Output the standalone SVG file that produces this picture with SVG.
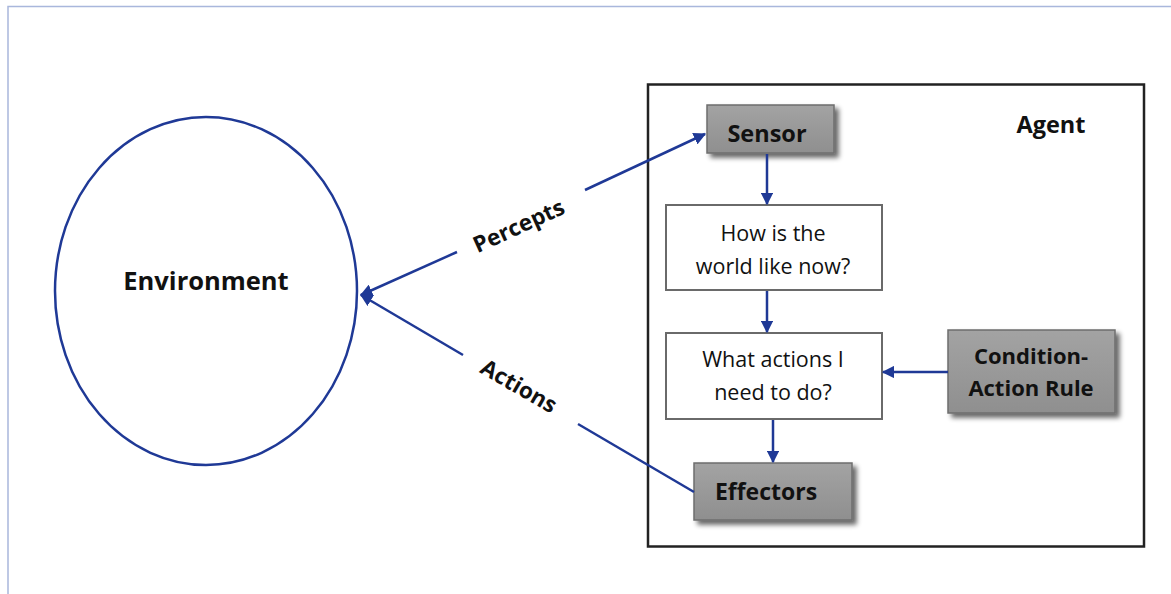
<svg xmlns="http://www.w3.org/2000/svg" width="1171" height="594" viewBox="0 0 1171 594">
<defs>
<marker id="ah" viewBox="0 0 10 10" refX="9" refY="5" markerWidth="5" markerHeight="5" orient="auto" markerUnits="strokeWidth">
<path d="M0,0 L10,5 L0,10 z" fill="#1f3996"/>
</marker>
<linearGradient id="gr" x1="0" y1="0" x2="0" y2="1">
<stop offset="0" stop-color="#a3a3a3"/>
<stop offset="1" stop-color="#8f8f8f"/>
</linearGradient>
<filter id="sh" x="-20%" y="-20%" width="150%" height="160%">
<feGaussianBlur in="SourceAlpha" stdDeviation="2.5"/>
<feOffset dx="4" dy="4" result="b"/>
<feComponentTransfer><feFuncA type="linear" slope="0.6"/></feComponentTransfer>
<feMerge><feMergeNode/><feMergeNode in="SourceGraphic"/></feMerge>
</filter>
</defs>
<style>
.t{font-family:"Open Sans","Liberation Sans",sans-serif;fill:#111;text-anchor:middle}
.b{font-weight:bold}
.gray{fill:url(#gr);stroke:#6e6e6e;stroke-width:1.5;filter:url(#sh)}
.wbox{fill:#fff;stroke:#6a6a6a;stroke-width:2}
.c{stroke:#1f3996;stroke-width:2.5;fill:none}
</style>
<rect width="1171" height="594" fill="#fff"/>
<path d="M8,594 L8,6.5 L1171,6.5" fill="none" stroke="#a9b7dc" stroke-width="1.5"/>

<g id="environment">
<ellipse cx="206" cy="291" rx="151" ry="174" fill="#fff" stroke="#1f3996" stroke-width="2.5"/>
<text class="t b" x="206" y="290" font-size="25.5">Environment</text>
</g>

<g id="agent">
<rect x="648" y="84.5" width="496" height="462" fill="none" stroke="#222" stroke-width="2.5"/>
<text class="t b" x="1051" y="133" font-size="23.5">Agent</text>
</g>

<g id="sensor">
<rect class="gray" x="707" y="105" width="127" height="48"/>
<text class="t b" x="767" y="142" font-size="23.5">Sensor</text>
</g>

<g id="world">
<rect class="wbox" x="666" y="205" width="216" height="85"/>
<text class="t" x="773" y="241" font-size="21.5">How is the</text>
<text class="t" x="773" y="274" font-size="21.5">world like now?</text>
</g>

<g id="actions-box">
<rect class="wbox" x="666" y="333" width="216" height="86"/>
<text class="t" x="773" y="367" font-size="21.5">What actions I</text>
<text class="t" x="773" y="400" font-size="21.5">need to do?</text>
</g>

<g id="rule">
<rect class="gray" x="948" y="330" width="167" height="83"/>
<text class="t b" x="1031" y="364" font-size="22">Condition-</text>
<text class="t b" x="1031" y="396" font-size="22">Action Rule</text>
</g>

<g id="effectors">
<rect class="gray" x="694" y="463" width="158" height="57"/>
<text class="t b" x="766" y="500" font-size="23">Effectors</text>
</g>

<g id="connectors">
<line class="c" x1="767" y1="154" x2="767" y2="204" marker-end="url(#ah)"/>
<line class="c" x1="767" y1="291" x2="767" y2="332" marker-end="url(#ah)"/>
<line class="c" x1="773" y1="420" x2="773" y2="462" marker-end="url(#ah)"/>
<line class="c" x1="948" y1="372" x2="883" y2="372" marker-end="url(#ah)"/>
<line class="c" x1="585" y1="190" x2="705" y2="134" marker-end="url(#ah)"/>
<line class="c" x1="457" y1="252" x2="361" y2="295" marker-end="url(#ah)"/>
<line class="c" x1="463" y1="355" x2="361" y2="295" marker-end="url(#ah)"/>
<line class="c" x1="578" y1="424" x2="694" y2="492"/>
<text class="t b" x="522" y="233" font-size="22.5" transform="rotate(-24.5 522 233)">Percepts</text>
<text class="t b" x="515" y="393" font-size="22.5" transform="rotate(30 515 393)">Actions</text>
</g>
</svg>
